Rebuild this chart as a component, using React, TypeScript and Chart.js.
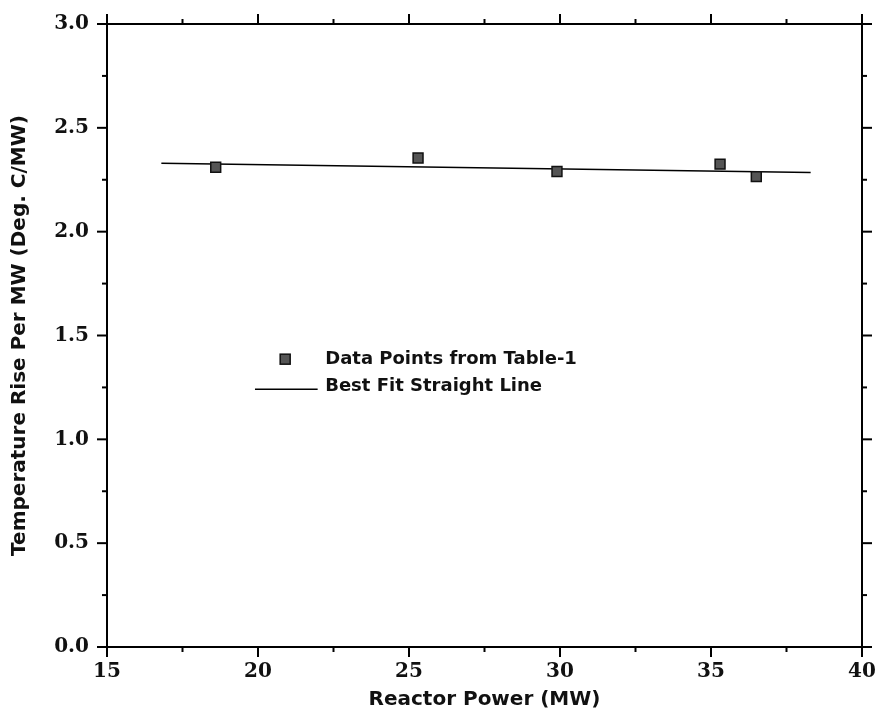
import React, { useEffect, useRef } from "react";
import { Chart, registerables } from "chart.js";

Chart.register(...registerables);

const powerMW = [18.6, 25.3, 29.9, 35.3, 36.5];
const tempRise = [2.31, 2.355, 2.29, 2.325, 2.265];
const fitX = [16.8, 38.3];
const fitY = [2.33, 2.285];

const xTitle = "Reactor Power (MW)";
const yTitle = "Temperature Rise Per MW (Deg. C/MW)";
const legendLabels = ["Data Points from Table-1", "Best Fit Straight Line"];

const TICK_FONT = { family: "'DejaVu Serif', serif", size: 20, weight: "bold" as const };
const TITLE_FONT = { family: "'DejaVu Sans', sans-serif", size: 20, weight: "bold" as const };

const boxTicks = {
  id: "boxTicks",
  afterDraw(chart: any) {
    const ctx = chart.ctx;
    const a = chart.chartArea;
    ctx.save();
    ctx.strokeStyle = "#000";
    ctx.lineWidth = 2;
    const drawScale = (scale: any, side: string, majorStep: number) => {
      scale.ticks.forEach((t: any) => {
        const v = t.value;
        const major = Math.abs(v / majorStep - Math.round(v / majorStep)) < 1e-6;
        const len = major ? 10 : 5;
        const p = scale.getPixelForValue(v);
        ctx.beginPath();
        if (side === "bottom") { ctx.moveTo(p, a.bottom); ctx.lineTo(p, a.bottom + len); }
        if (side === "top") { ctx.moveTo(p, a.top); ctx.lineTo(p, a.top - len); }
        if (side === "left") { ctx.moveTo(a.left, p); ctx.lineTo(a.left - len, p); }
        if (side === "right") { ctx.moveTo(a.right, p); ctx.lineTo(a.right + len, p); }
        ctx.stroke();
      });
    };
    drawScale(chart.scales.x, "bottom", 5);
    drawScale(chart.scales.x2, "top", 5);
    drawScale(chart.scales.y, "left", 0.5);
    drawScale(chart.scales.y2, "right", 0.5);
    ctx.restore();
  },
};

const innerLegend = {
  id: "innerLegend",
  afterDraw(chart: any) {
    const ctx = chart.ctx;
    const a = chart.chartArea;
    const w = a.right - a.left;
    const h = a.bottom - a.top;
    const mx = a.left + 0.236 * w;
    const y1 = a.top + 0.538 * h;
    const y2 = y1 + 27;
    const tx = a.left + 0.289 * w;
    ctx.save();
    ctx.fillStyle = "#555";
    ctx.strokeStyle = "#111";
    ctx.lineWidth = 1.5;
    ctx.fillRect(mx - 5, y1 - 5, 10, 10);
    ctx.strokeRect(mx - 5, y1 - 5, 10, 10);
    ctx.beginPath();
    ctx.strokeStyle = "#000";
    ctx.lineWidth = 1.5;
    ctx.moveTo(a.left + 0.196 * w, y2 + 3);
    ctx.lineTo(a.left + 0.279 * w, y2 + 3);
    ctx.stroke();
    ctx.fillStyle = "#111";
    ctx.font = "bold 18px 'DejaVu Sans', sans-serif";
    ctx.textBaseline = "middle";
    ctx.textAlign = "left";
    ctx.fillText(legendLabels[0], tx, y1);
    ctx.fillText(legendLabels[1], tx, y2);
    ctx.restore();
  },
};

export default function App() {
  const ref = useRef<HTMLCanvasElement>(null);
  useEffect(() => {
    document.body.style.margin = "0";
    const c = ref.current!;
    const fixH = (h: number) => (s: any) => { s.height = h; s.paddingLeft = 0; s.paddingRight = 0; };
    const fixW = (w: number) => (s: any) => { s.width = w; s.paddingTop = 0; s.paddingBottom = 0; };
    const chart = new Chart(c, {
      type: "scatter",
      data: {
        datasets: [
          {
            label: legendLabels[0],
            data: powerMW.map((x, i) => ({ x, y: tempRise[i] })),
            pointStyle: "rect",
            pointRadius: 7,
            backgroundColor: "#555",
            borderColor: "#111",
            borderWidth: 1.5,
            order: 1,
          },
          {
            label: legendLabels[1],
            type: "line",
            data: fitX.map((x, i) => ({ x, y: fitY[i] })),
            borderColor: "#000",
            borderWidth: 1.5,
            pointRadius: 0,
            showLine: true,
            fill: false,
            order: 2,
          } as any,
        ],
      },
      options: {
        animation: false,
        responsive: false,
        layout: { padding: 0 },
        plugins: { legend: { display: false }, tooltip: { enabled: false } },
        scales: {
          x: {
            type: "linear",
            position: "bottom",
            min: 15,
            max: 40,
            grid: { display: true, drawOnChartArea: false, drawTicks: false },
            border: { display: true, color: "#000", width: 2 },
            ticks: {
              stepSize: 2.5,
              autoSkip: false,
              padding: 13,
              color: "#111",
              font: TICK_FONT,
              maxRotation: 0,
              callback: (v: any) => (Math.abs(v % 5) < 1e-6 ? String(v) : ""),
            },
            title: { display: true, text: xTitle, color: "#111", font: TITLE_FONT, padding: { top: 0, bottom: 7 } },
            afterFit: fixH(72),
          },
          x2: {
            type: "linear",
            position: "top",
            min: 15,
            max: 40,
            grid: { display: true, drawOnChartArea: false, drawTicks: false },
            border: { display: true, color: "#000", width: 2 },
            ticks: { stepSize: 2.5, display: false },
            afterFit: fixH(24),
          },
          y: {
            type: "linear",
            position: "left",
            min: 0,
            max: 3,
            grid: { display: true, drawOnChartArea: false, drawTicks: false },
            border: { display: true, color: "#000", width: 2 },
            ticks: {
              stepSize: 0.25,
              autoSkip: false,
              padding: 18,
              color: "#111",
              font: TICK_FONT,
              callback: (v: any) => (Math.abs((v * 2) % 1) < 1e-6 ? Number(v).toFixed(1) : ""),
            },
            title: { display: true, text: yTitle, color: "#111", font: TITLE_FONT, padding: { top: 8, bottom: 0 } },
            afterFit: fixW(107),
          },
          y2: {
            type: "linear",
            position: "right",
            min: 0,
            max: 3,
            grid: { display: true, drawOnChartArea: false, drawTicks: false },
            border: { display: true, color: "#000", width: 2 },
            ticks: { stepSize: 0.25, display: false },
            afterFit: fixW(19),
          },
        },
      },
      plugins: [boxTicks, innerLegend],
    });
    return () => chart.destroy();
  }, []);
  return (
    <div style={{ width: 881, height: 719, background: "#fff" }}>
      <canvas ref={ref} width={881} height={719} style={{ display: "block" }} />
    </div>
  );
}
